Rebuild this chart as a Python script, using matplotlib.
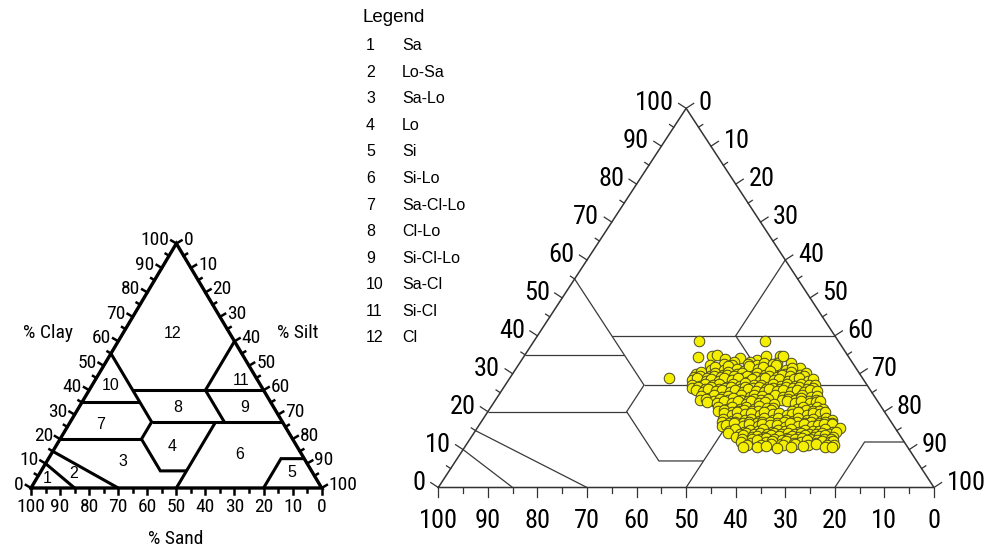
import matplotlib.pyplot as plt
import numpy as np
from matplotlib import font_manager

W, H = 1002, 550

installed = {f.name for f in font_manager.fontManager.ttflist}
REGULAR = "Liberation Sans" if "Liberation Sans" in installed else "DejaVu Sans"
NARROW, NARROW_SCALE = REGULAR, 0.86
for name in ["Liberation Sans Narrow", "Arial Narrow", "Roboto Condensed", "Open Sans Condensed"]:
    if name in installed:
        NARROW, NARROW_SCALE = name, 1.0
        break

# --- texture classes ---
class_ids = list(range(1, 13))
class_names = ["Sa", "Lo-Sa", "Sa-Lo", "Lo", "Si", "Si-Lo",
               "Sa-Cl-Lo", "Cl-Lo", "Si-Cl-Lo", "Sa-Cl", "Si-Cl", "Cl"]

# label anchor of every class inside the small triangle, (sand %, clay %)
class_label_sand = [92.6, 82.5, 63.0, 42.8, 7.1, 21.4, 63.0, 33.0, 10.0, 51.7, 5.7, 19.8]
class_label_clay = [4.0, 6.0, 10.8, 17.0, 6.4, 13.5, 26.0, 33.0, 33.0, 42.0, 44.0, 63.0]

# class boundaries as polylines of (sand %, clay %)
boundaries = [
    [(45, 55), (45, 27), (52, 20), (52, 7), (43, 7)],
    [(45, 40), (0, 40)],
    [(0, 60), (20, 40), (20, 27)],
    [(45, 27), (0, 27)],
    [(65, 35), (45, 35)],
    [(80, 20), (52, 20)],
    [(50, 0), (23, 27)],
    [(20, 0), (8, 12), (0, 12)],
    [(90, 10), (85, 0)],
    [(85, 15), (70, 0)],
]

tick_values = list(range(0, 101, 10))

# --- soil samples (sand %, clay %) ---
samples = np.array([
    # isolated samples
    [28.0, 38.7], [14.7, 38.7], [30.4, 34.3], [39.0, 29.0],
    # upper fringe
    [27.5, 34.6], [26.4, 34.9], [25.2, 33.8], [22.0, 34.1], [18.9, 33.6], [16.5, 34.7],
    [13.7, 34.6], [11.3, 31.6], [20.5, 33.2], [23.8, 33.0], [15.2, 32.8], [13.1, 34.7],
    [28.9, 32.4], [26.0, 32.7], [24.6, 32.3], [21.2, 32.6], [19.7, 32.2], [17.9, 32.8],
    [16.3, 32.5], [12.4, 32.9],
    # clay ~31
    [29.5, 31.0], [28.2, 31.8], [27.0, 30.9], [25.6, 32.1], [24.1, 31.3], [22.9, 30.8],
    [21.4, 32.0], [20.0, 31.2], [18.7, 31.7], [17.2, 30.9], [15.8, 32.2], [14.4, 31.1],
    [12.9, 31.5],
    # clay ~30
    [33.2, 29.8], [31.9, 30.4], [30.5, 29.5], [29.0, 30.2], [27.7, 29.6], [26.3, 30.5],
    [24.8, 29.9], [23.5, 30.3], [22.0, 29.4], [20.6, 30.1], [19.3, 29.7], [17.8, 30.6],
    [16.4, 29.5], [15.1, 30.0], [13.6, 30.4], [12.2, 29.6], [10.8, 30.1],
    # clay ~29.3
    [33.9, 29.2], [32.5, 29.5], [31.2, 29.0], [29.7, 29.4], [28.4, 29.1], [27.0, 29.6],
    [25.6, 29.3], [24.2, 28.9], [22.9, 29.5], [21.4, 29.2], [20.0, 29.0], [18.6, 29.4],
    [17.2, 29.1], [15.8, 29.6], [14.4, 29.3], [13.0, 29.0], [11.6, 29.4],
    # clay ~28.5
    [34.6, 28.3], [33.4, 28.9], [32.0, 28.0], [30.7, 28.7], [29.3, 28.2], [27.9, 29.0],
    [26.6, 28.4], [25.1, 28.8], [23.8, 27.9], [22.4, 28.6], [21.0, 28.1], [19.7, 28.9],
    [18.2, 28.3], [16.9, 28.7], [15.5, 28.0], [14.0, 28.5], [12.7, 28.9], [11.3, 28.2],
    [10.2, 28.6],
    # clay ~27
    [35.2, 27.1], [33.8, 26.7], [32.5, 27.4], [31.1, 26.9], [29.8, 27.3], [28.4, 26.6],
    [27.0, 27.2], [25.7, 26.8], [24.3, 27.5], [22.8, 26.9], [21.5, 27.0], [20.1, 26.6],
    [18.8, 27.4], [17.4, 26.8], [16.0, 27.2], [14.6, 26.7], [13.2, 27.3], [11.8, 26.9],
    [10.4, 27.1],
    # clay ~26.3
    [35.8, 26.2], [34.4, 26.4], [33.1, 26.0], [31.7, 26.5], [30.3, 26.1], [29.0, 26.3],
    [27.6, 26.6], [26.2, 26.0], [24.9, 26.4], [23.5, 26.2], [22.1, 26.5], [20.8, 26.1],
    [19.4, 26.3], [18.0, 26.0], [16.7, 26.4], [15.3, 26.2], [13.9, 26.6], [12.5, 26.1],
    [11.2, 26.3],
    # clay ~25.5
    [35.3, 25.6], [34.0, 25.2], [32.7, 25.9], [31.3, 25.4], [29.9, 25.8], [28.6, 25.1],
    [27.2, 25.7], [25.8, 25.3], [24.5, 26.0], [23.1, 25.5], [21.7, 25.2], [20.4, 25.9],
    [19.0, 25.4], [17.6, 25.7], [16.2, 25.1], [14.9, 25.6], [13.5, 25.3], [12.1, 25.8],
    [10.9, 25.5],
    # clay ~24
    [35.0, 24.1], [33.5, 23.7], [32.2, 24.4], [30.8, 23.9], [29.4, 24.2], [28.1, 23.6],
    [26.7, 24.3], [25.3, 23.8], [24.0, 24.5], [22.6, 24.0], [21.2, 23.7], [19.9, 24.4],
    [18.5, 23.9], [17.1, 24.2], [15.7, 23.6], [14.4, 24.3], [13.0, 23.8], [11.6, 24.1],
    # clay ~23.2
    [35.6, 23.1], [34.2, 23.4], [32.9, 22.9], [31.5, 23.3], [30.1, 23.0], [28.8, 23.5],
    [27.4, 23.2], [26.0, 22.9], [24.7, 23.4], [23.3, 23.1], [21.9, 23.3], [19.2, 23.0],
    [17.8, 23.4], [16.4, 23.1], [15.1, 23.5], [13.7, 22.9], [12.3, 23.2],
    # clay ~22.5
    [34.4, 22.6], [32.6, 22.2], [30.9, 22.8], [29.5, 22.4], [28.2, 22.7], [26.8, 22.1],
    [25.4, 22.9], [24.1, 22.3], [22.7, 22.6], [21.3, 22.0], [18.2, 22.8], [16.8, 22.4],
    [15.4, 22.7], [14.0, 22.2], [12.6, 22.5], [11.5, 22.9],
    # clay ~21
    [33.0, 21.1], [31.5, 20.7], [30.1, 21.3], [28.7, 20.8], [27.3, 21.2], [26.0, 20.6],
    [24.6, 21.4], [23.2, 20.9], [21.9, 21.0], [17.2, 20.7], [15.8, 21.3], [14.5, 20.8],
    [13.1, 21.1], [12.0, 20.6],
    # clay ~20.2
    [33.5, 20.1], [32.2, 20.4], [30.8, 20.0], [29.4, 20.3], [28.0, 20.5], [26.7, 20.1],
    [25.3, 20.3], [23.9, 19.9], [22.6, 20.4], [18.5, 20.2], [17.1, 20.0], [15.7, 20.4],
    [14.3, 20.1], [13.0, 20.3],
    # clay ~19.5
    [32.6, 19.6], [31.2, 19.2], [29.8, 19.9], [28.4, 19.4], [27.0, 19.7], [25.6, 19.1],
    [24.3, 19.8], [22.9, 19.3], [21.5, 19.6], [20.2, 19.0], [18.8, 19.5], [17.4, 19.9],
    [16.0, 19.2], [14.6, 19.7], [13.3, 19.4], [12.1, 19.8],
    # clay ~18
    [33.5, 18.0], [32.0, 17.6], [30.6, 18.3], [29.2, 17.8], [27.8, 18.1], [26.5, 17.5],
    [25.1, 18.2], [23.7, 17.7], [22.3, 18.4], [20.9, 17.9], [19.6, 17.6], [18.2, 18.3],
    [16.8, 17.8], [15.4, 18.1], [14.1, 17.5], [12.7, 18.2], [11.6, 17.9],
    # clay ~17.2
    [34.2, 17.2], [32.8, 17.0], [31.4, 17.4], [30.0, 17.1], [28.6, 17.3], [27.2, 16.9],
    [25.9, 17.4], [24.5, 17.2], [23.1, 17.0], [21.7, 17.3], [20.3, 17.1], [19.0, 17.4],
    [17.6, 16.9], [16.2, 17.2], [14.8, 17.0], [13.4, 17.3], [12.0, 17.1],
    # clay ~16.5
    [34.7, 16.2], [33.6, 16.6], [31.8, 16.9], [30.3, 16.3], [28.9, 16.7], [27.5, 16.1],
    [26.2, 16.8], [24.8, 16.4], [23.4, 16.6], [22.0, 16.0], [20.7, 16.9], [19.3, 16.3],
    [17.9, 16.7], [16.5, 16.2], [15.1, 16.5], [13.8, 16.8], [12.3, 16.7], [11.2, 15.6],
    # clay ~15
    [33.9, 14.9], [32.4, 15.3], [30.9, 14.7], [29.5, 15.2], [28.1, 14.8], [26.7, 15.4],
    [25.3, 14.6], [24.0, 15.1], [22.6, 14.9], [21.2, 15.3], [19.8, 14.7], [18.5, 15.2],
    [17.1, 14.8], [15.7, 15.0], [14.3, 15.4], [13.0, 14.6],
    # clay ~14.2
    [34.4, 14.3], [32.1, 14.1], [30.7, 14.4], [29.3, 14.0], [27.9, 14.3], [26.5, 14.2],
    [25.1, 14.5], [23.8, 14.0], [22.4, 14.3], [21.0, 14.1], [19.6, 14.4], [18.2, 14.2],
    [16.9, 14.0], [15.5, 14.3], [14.1, 14.1], [12.4, 14.6],
    # clay ~13.5
    [33.2, 13.4], [31.6, 13.8], [30.2, 13.2], [28.8, 13.7], [27.4, 13.3], [26.0, 13.9],
    [24.6, 13.5], [23.2, 13.1], [21.8, 13.6], [20.5, 13.4], [19.1, 13.8], [17.7, 13.2],
    [16.3, 13.6], [15.0, 13.9], [13.6, 13.4],
    # clay ~12.8
    [32.4, 12.8], [30.3, 12.9], [28.8, 12.7], [27.3, 13.0], [25.9, 12.8], [24.4, 12.6],
    [23.0, 12.9], [21.6, 12.7], [20.1, 13.0], [18.7, 12.8], [17.3, 12.6], [15.8, 12.9],
    [14.5, 12.7],
    # clay ~12
    [32.8, 12.1], [31.0, 11.7], [29.5, 12.4], [28.0, 11.9], [26.6, 12.2], [25.1, 11.6],
    [23.7, 12.3], [22.3, 11.8], [20.8, 12.0], [19.4, 12.4], [18.0, 11.7], [16.5, 12.2],
    [15.1, 11.9], [14.2, 12.3],
    # lower fringe
    [32.0, 11.3], [29.4, 11.2], [27.2, 11.5], [25.0, 11.1], [22.4, 11.4], [19.8, 11.2],
    [18.1, 11.5], [16.0, 11.3], [14.7, 11.1],
    [33.1, 10.8], [30.4, 10.6], [28.4, 10.9], [26.4, 10.5], [23.4, 10.7], [21.0, 11.0],
    [16.6, 10.8], [15.3, 10.6],
])


def to_xy(sand, clay):
    sand = np.asarray(sand, dtype=float)
    clay = np.asarray(clay, dtype=float)
    return 100 - sand - clay / 2, clay


def add_axes_px(fig, left, base, width, height):
    ax = fig.add_axes([left / W, (H - base) / H, width / W, height / H])
    ax.set_xlim(0, 100)
    ax.set_ylim(0, 100)
    ax.axis("off")
    return ax


def draw_frame(ax, w, h, lw, color, major, minor, tick_lw, pad, bottom_pad, fs):
    sx, sy = w / 100, h / 100
    fs = fs * NARROW_SCALE
    ax.plot([0, 100, 50, 0], [0, 0, 100, 0], color=color, lw=lw,
            clip_on=False, solid_joinstyle="miter", zorder=3)
    norm = np.hypot(h, w / 2)
    nl = np.array([-h, w / 2]) / norm   # outward normal of the clay edge, in pixels
    nr = np.array([h, w / 2]) / norm    # outward normal of the silt edge
    for v in range(0, 101, 5):
        L = major if v % 10 == 0 else minor
        # clay axis (left edge)
        x0, y0 = v / 2, v
        x1, y1 = x0 + L * nl[0] / sx, y0 + L * nl[1] / sy
        ax.plot([x0, x1], [y0, y1], color=color, lw=tick_lw, clip_on=False)
        if v in tick_values:
            ax.text(x1 - pad / sx, y1, str(v), ha="right", va="center",
                    fontsize=fs, family=NARROW, clip_on=False)
        # silt axis (right edge)
        x0, y0 = 50 + v / 2, 100 - v
        x1, y1 = x0 + L * nr[0] / sx, y0 + L * nr[1] / sy
        ax.plot([x0, x1], [y0, y1], color=color, lw=tick_lw, clip_on=False)
        if v in tick_values:
            ax.text(x1 + pad / sx, y1, str(v), ha="left", va="center",
                    fontsize=fs, family=NARROW, clip_on=False)
        # sand axis (bottom edge)
        x0 = 100 - v
        ax.plot([x0, x0], [0, -L / sy], color=color, lw=tick_lw, clip_on=False)
        if v in tick_values:
            ax.text(x0, -bottom_pad / sy, str(v), ha="center", va="center",
                    fontsize=fs, family=NARROW, clip_on=False)


def draw_boundaries(ax, lw, color):
    for line in boundaries:
        sand, clay = zip(*line)
        x, y = to_xy(sand, clay)
        ax.plot(x, y, color=color, lw=lw, clip_on=False, zorder=2,
                solid_joinstyle="miter", solid_capstyle="butt")


fig = plt.figure(figsize=(W / 100, H / 100), dpi=100)

# --- small reference triangle with class numbers ---
lw_, lh_ = 290.7, 244.5
ax1 = add_axes_px(fig, 31, 488, lw_, lh_)
draw_frame(ax1, lw_, lh_, lw=2.4, color="black", major=6, minor=4,
           tick_lw=1.8, pad=2, bottom_pad=19, fs=14)
draw_boundaries(ax1, lw=2.2, color="black")
lx, ly = to_xy(class_label_sand, class_label_clay)
for cid, x, y in zip(class_ids, lx, ly):
    ax1.text(x, y, str(cid), ha="center", va="center", fontsize=11.5, family=REGULAR)

axis_fs = 14 * NARROW_SCALE
fig.text(48 / W, 1 - 333 / H, "% Clay", ha="center", va="center", fontsize=axis_fs, family=NARROW)
fig.text(298 / W, 1 - 333 / H, "% Silt", ha="center", va="center", fontsize=axis_fs, family=NARROW)
fig.text(176 / W, 1 - 539 / H, "% Sand", ha="center", va="center", fontsize=axis_fs, family=NARROW)

# --- legend ---
fig.text(363 / W, 1 - 18 / H, "Legend", ha="left", va="center", fontsize=13.5, family=REGULAR)
rows_y = np.linspace(45.5, 338, len(class_ids))
for cid, name, y in zip(class_ids, class_names, rows_y):
    fig.text(366 / W, 1 - y / H, str(cid), ha="left", va="center", fontsize=11.5, family=REGULAR)
    fig.text(402 / W, 1 - y / H, name, ha="left", va="center", fontsize=11.5, family=REGULAR)

# --- sample triangle ---
rw_, rh_ = 495.7, 379.2
ax2 = add_axes_px(fig, 438.3, 487.5, rw_, rh_)
draw_frame(ax2, rw_, rh_, lw=1.1, color="#333333", major=9, minor=5,
           tick_lw=0.9, pad=5, bottom_pad=34, fs=19)
draw_boundaries(ax2, lw=0.9, color="#3a3a3a")
sx_, sy_ = to_xy(samples[:, 0], samples[:, 1])
ax2.scatter(sx_, sy_, s=58, facecolor="#f4ee00", edgecolor="#4a4a20",
            linewidths=0.7, zorder=4, clip_on=False)

fig.savefig("out.png", dpi=100)
